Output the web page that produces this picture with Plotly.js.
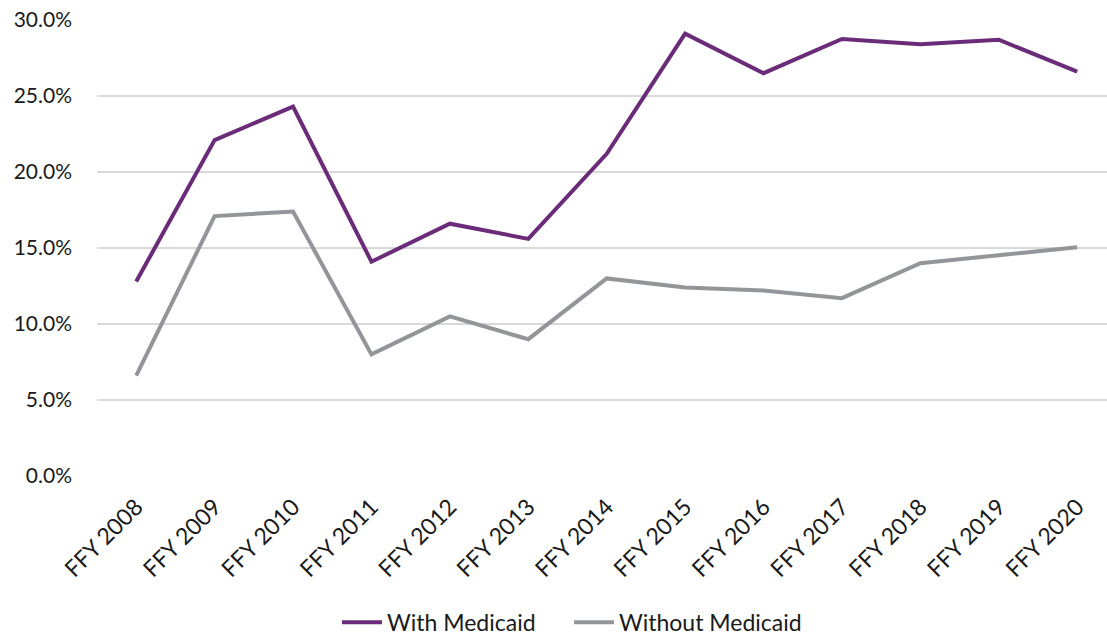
<!DOCTYPE html>
<html>
<head>
<meta charset="utf-8">
<script src="https://cdn.plot.ly/plotly-3.0.1.min.js"></script>
<style>
  html, body { margin: 0; padding: 0; background: white; }
  #chart { width: 1107px; height: 635px; }
</style>
</head>
<body>
<div id="chart"></div>
<script>
const years = ['FFY 2008', 'FFY 2009', 'FFY 2010', 'FFY 2011', 'FFY 2012', 'FFY 2013', 'FFY 2014',
  'FFY 2015', 'FFY 2016', 'FFY 2017', 'FFY 2018', 'FFY 2019', 'FFY 2020'];
const withMedicaid = [0.128, 0.221, 0.243, 0.141, 0.166, 0.156, 0.212, 0.291, 0.265, 0.2875, 0.284, 0.287, 0.266];
const withoutMedicaid = [0.066, 0.171, 0.174, 0.080, 0.105, 0.090, 0.130, 0.124, 0.122, 0.117, 0.140, 0.145, 0.1505];
const yTicks = [0, 0.05, 0.10, 0.15, 0.20, 0.25, 0.30];

const FONT = 'Lato, "Open Sans", sans-serif';

const traces = [
  {
    x: years, y: withMedicaid, name: 'With Medicaid', type: 'scatter', mode: 'lines',
    line: { color: '#6a2c79', width: 4 },
  },
  {
    x: years, y: withoutMedicaid, name: 'Without Medicaid', type: 'scatter', mode: 'lines',
    line: { color: '#939598', width: 4 },
  },
];

const layout = {
  width: 1107,
  height: 635,
  margin: { l: 97, r: 0, t: 20, b: 159, autoexpand: false },
  paper_bgcolor: 'white',
  plot_bgcolor: 'white',
  font: { family: FONT, size: 21, color: '#1a1a1a' },
  showlegend: true,
  legend: {
    orientation: 'h', x: 0.2376, xanchor: 'left',
    yref: 'container', y: 0.02, yanchor: 'middle',
    font: { family: FONT, size: 23, color: '#1a1a1a' },
    entrywidth: 177, entrywidthmode: 'pixels',
    itemwidth: 40, traceorder: 'normal',
  },
  xaxis: {
    type: 'category',
    range: [-0.5, 12.38],
    tickangle: -45,
    showgrid: false,
    zeroline: false,
    showline: false,
    ticks: '',
    ticklabelstandoff: 12,
    tickfont: { family: FONT, size: 23 },
  },
  yaxis: {
    range: [0, 0.30],
    tickvals: yTicks,
    tickformat: '.1%',
    showgrid: true,
    gridcolor: '#d9d9d9',
    gridwidth: 2,
    zeroline: false,
    showline: false,
    ticks: '',
    ticklabelstandoff: 24,
    tickfont: { family: FONT, size: 21 },
  },
};

Plotly.newPlot('chart', traces, layout, { displayModeBar: false, staticPlot: true });
</script>
</body>
</html>
